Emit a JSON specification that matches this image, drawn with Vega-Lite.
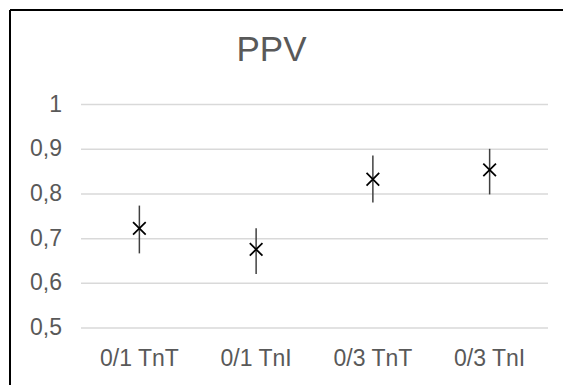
{
  "$schema": "https://vega.github.io/schema/vega-lite/v6.json",
  "width": 553,
  "height": 375,
  "autosize": {"type": "none"},
  "padding": {"left": 10, "top": 10, "right": 0, "bottom": 0},
  "background": "white",
  "config": {"view": {"stroke": null}, "font": "Liberation Sans"},
  "title": {
    "text": "PPV",
    "fontSize": 35,
    "font": "Liberation Sans",
    "fontWeight": "normal",
    "color": "#595959",
    "anchor": "middle",
    "frame": "group",
    "baseline": "alphabetic",
    "offset": 0,
    "dy": 87,
    "dx": -15
  },
  "datasets": {
    "ppv": [
      {"cat": "0/1 TnT", "ppv": 0.723, "lo": 0.667, "hi": 0.774},
      {"cat": "0/1 TnI", "ppv": 0.676, "lo": 0.621, "hi": 0.723},
      {"cat": "0/3 TnT", "ppv": 0.833, "lo": 0.781, "hi": 0.886},
      {"cat": "0/3 TnI", "ppv": 0.854, "lo": 0.799, "hi": 0.901}
    ],
    "grid": [{"v": 0.5}, {"v": 0.6}, {"v": 0.7}, {"v": 0.8}, {"v": 0.9}, {"v": 1.0}]
  },
  "layer": [
    {
      "data": {"name": "grid"},
      "mark": {"type": "rule", "color": "#d9d9d9", "strokeWidth": 1.5},
      "encoding": {
        "y": {
          "field": "v",
          "type": "quantitative",
          "scale": {"domain": [0.3724, 1.2118], "nice": false, "zero": false},
          "axis": {
            "values": [0.5, 0.6, 0.7, 0.8, 0.9, 1],
            "grid": false,
            "ticks": false,
            "tickSize": 0,
            "domain": true,
            "domainColor": "black",
            "domainWidth": 2,
            "translate": 0,
            "labelPadding": -52,
            "labelFontSize": 23,
            "labelColor": "#595959",
            "labelFont": "Liberation Sans",
            "labelOverlap": false,
            "labelExpr": "datum.value == 1 ? '1' : replace(format(datum.value, '.1f'), '.', ',')",
            "title": null
          }
        },
        "x": {
          "datum": 0,
          "type": "quantitative",
          "scale": {"domain": [-0.6081, 4.1285], "nice": false, "zero": false},
          "axis": null
        },
        "x2": {"datum": 4}
      }
    },
    {
      "data": {"values": [{}]},
      "mark": {"type": "rule", "color": "black", "strokeWidth": 2},
      "encoding": {"y": {"datum": 1.2118, "type": "quantitative"}}
    },
    {
      "data": {"name": "ppv"},
      "encoding": {
        "x": {
          "field": "cat",
          "type": "nominal",
          "sort": null,
          "scale": {"paddingInner": 0, "paddingOuter": 0.3683, "align": 0.8256},
          "axis": {
            "title": null,
            "domain": false,
            "ticks": false,
            "tickSize": 0,
            "grid": false,
            "labelAngle": 0,
            "labelPadding": -20,
            "labelBaseline": "alphabetic",
            "labelFontSize": 23,
            "labelColor": "#595959",
            "labelFont": "Liberation Sans"
          }
        }
      },
      "layer": [
        {
          "mark": {"type": "rule", "color": "#404040", "strokeWidth": 1.5},
          "encoding": {
            "y": {"field": "lo", "type": "quantitative"},
            "y2": {"field": "hi"}
          }
        },
        {
          "mark": {
            "type": "point",
            "shape": "M-1,-1L1,1M-1,1L1,-1",
            "filled": false,
            "stroke": "black",
            "strokeWidth": 1.75,
            "size": 160,
            "opacity": 1
          },
          "encoding": {
            "y": {"field": "ppv", "type": "quantitative"}
          }
        }
      ]
    }
  ],
  "resolve": {"scale": {"x": "independent"}}
}
